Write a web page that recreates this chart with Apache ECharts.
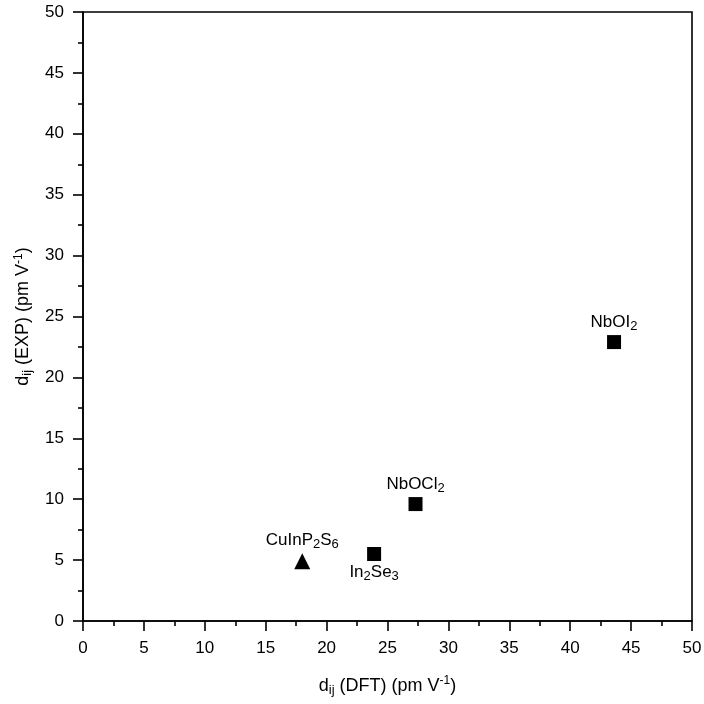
<!DOCTYPE html>
<html>
<head>
<meta charset="utf-8">
<script src="https://cdn.jsdelivr.net/npm/echarts@6/dist/echarts.min.js"></script>
<style>
  html, body { margin: 0; padding: 0; background: #fff; }
  #chart { width: 704px; height: 704px; }
</style>
</head>
<body>
<div id="chart"></div>
<script>
// materials and their measured vs computed d_ij
const names = ['CuInP2S6', 'In2Se3', 'NbOCl2', 'NbOI2'];
const labels = ['{n|CuInP}{s|2}{n|S}{s|6}', '{n|In}{s|2}{n|Se}{s|3}', '{n|NbOCl}{s|2}', '{n|NbOI}{s|2}'];
const dft = [18.0, 23.9, 27.3, 43.6];
const exp = [4.9, 5.5, 9.6, 22.9];
const symbols = ['triangle', 'rect', 'rect', 'rect'];
const labelPos = ['top', 'bottom', 'top', 'top'];

const FontName = 'Liberation Sans, Arial, sans-serif';

function makeRich(big, small) {
  return {
    n: { fontSize: big, color: '#000', fontFamily: FontName, lineHeight: 22, verticalAlign: 'middle' },
    s: { fontSize: small, color: '#000', fontFamily: FontName, lineHeight: 22, verticalAlign: 'bottom', padding: [7, 0, 0, 0] },
    p: { fontSize: small - 1, color: '#000', fontFamily: FontName, lineHeight: 22, verticalAlign: 'top', padding: [0, 0, 7, 0] }
  };
}

var points = [];
for (var i = 0; i < names.length; i++) {
  points.push({
    name: names[i],
    value: [dft[i], exp[i]],
    symbol: symbols[i],
    symbolSize: symbols[i] == 'triangle' ? 16 : 14,
    label: {
      show: true,
      position: labelPos[i],
      distance: labelPos[i] == 'bottom' ? 0 : 2,
      formatter: labels[i],
      rich: makeRich(17, 13)
    }
  });
}

function axisCommon(nameStr, gap) {
  return {
    type: 'value',
    min: 0,
    max: 50,
    interval: 5,
    name: nameStr,
    nameLocation: 'middle',
    nameGap: gap,
    nameTextStyle: { rich: makeRich(18, 13) },
    axisLine: { show: true, onZero: false, lineStyle: { color: '#000', width: 1.6 } },
    axisTick: { show: true, length: 10, inside: false, lineStyle: { color: '#000', width: 1.6 } },
    minorTick: { show: true, splitNumber: 2, length: 5, lineStyle: { color: '#000', width: 1.6 } },
    axisLabel: { color: '#000', fontSize: 17, fontFamily: FontName, margin: 19 },
    splitLine: { show: false },
    minorSplitLine: { show: false }
  };
}

var chart = echarts.init(document.getElementById('chart'));
var option = {
  backgroundColor: '#fff',
  animation: false,
  grid: {
    left: 83, right: 12, top: 12, bottom: 83,
    containLabel: false,
    outerBoundsMode: 'none',
    show: true, borderColor: '#000', borderWidth: 1.6
  },
  xAxis: axisCommon('{n|d}{s|ij}{n| (DFT) (pm V}{p|-1}{n|)}', 54),
  yAxis: axisCommon('{n|d}{s|ij}{n| (EXP) (pm V}{p|-1}{n|)}', 43),
  series: [{
    type: 'scatter',
    itemStyle: { color: '#000', opacity: 1 },
    data: points
  }]
};
chart.setOption(option);
</script>
</body>
</html>
